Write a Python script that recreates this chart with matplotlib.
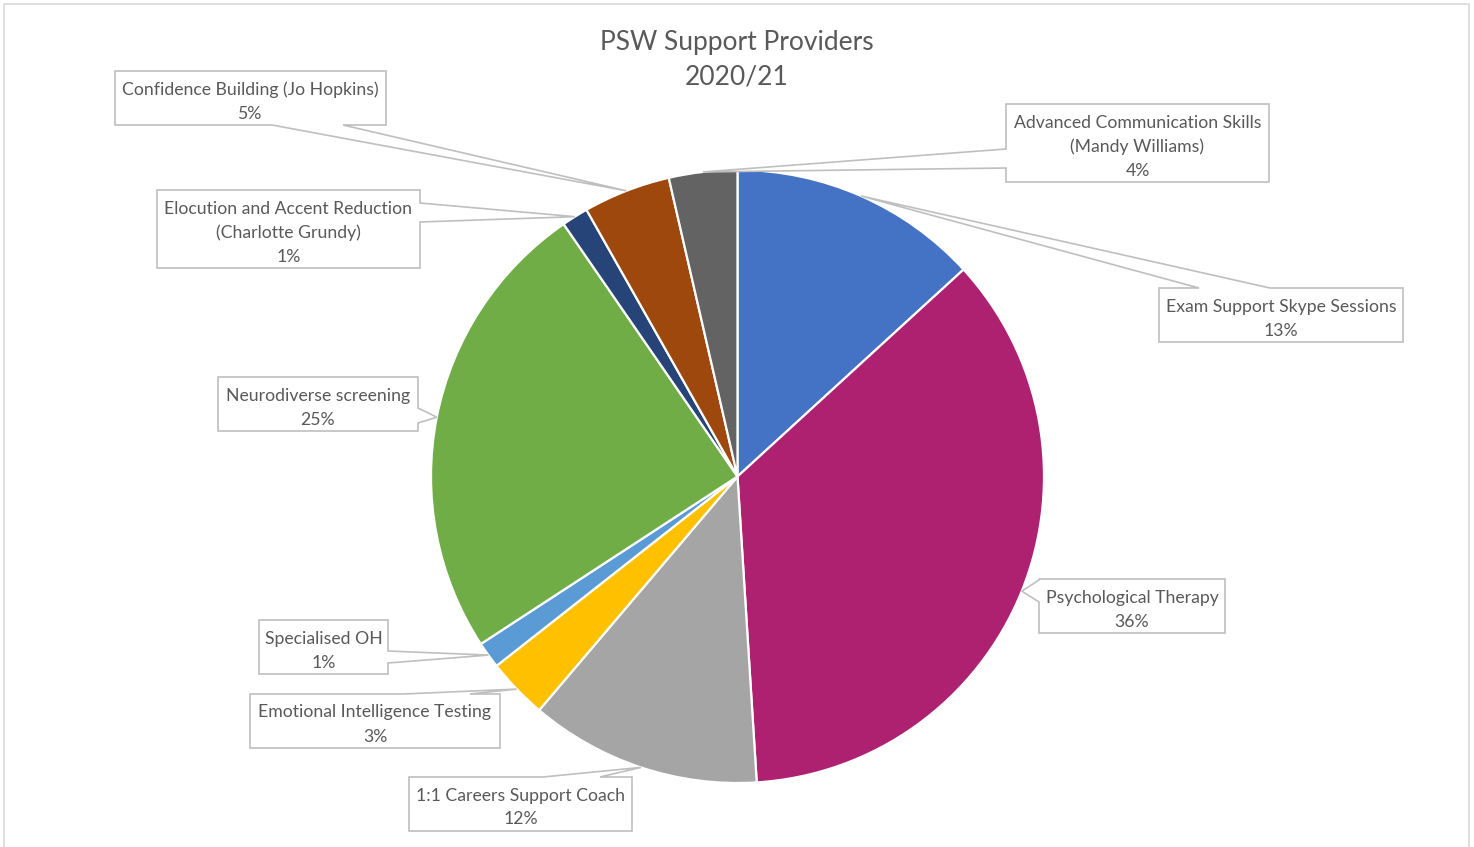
import numpy as np
import matplotlib.pyplot as plt
from matplotlib.patches import Polygon, Rectangle

W, H = 1474, 847

providers = [
    "Exam Support Skype Sessions",
    "Psychological Therapy",
    "1:1 Careers Support Coach",
    "Emotional Intelligence Testing",
    "Specialised OH",
    "Neurodiverse screening",
    "Elocution and Accent Reduction\n(Charlotte Grundy)",
    "Confidence Building (Jo Hopkins)",
    "Advanced Communication Skills\n(Mandy Williams)",
]
shares = [13.2, 35.8, 12.2, 3.2, 1.4, 24.6, 1.4, 4.6, 3.6]
colors = ["#4472C4", "#AD2170", "#A5A5A5", "#FFC000", "#5B9BD5",
          "#70AD47", "#264478", "#9E480E", "#636363"]

# callout boxes (pixels from top-left): left, top, right, pointer side, pointer base
callouts = [
    (1159, 288, 1403, "top", (1199, 1270)),
    (1039, 579, 1225, "left", (580, 602)),
    (409, 777, 632, "top", (543, 600)),
    (250, 694, 500, "top", (403, 470)),
    (259, 620, 388, "right", (651, 663)),
    (218, 377, 418, "right", (408, 423)),
    (157, 190, 420, "right", (203, 222)),
    (115, 71, 386, "bottom", (272, 343)),
    (1006, 104, 1269, "left", (149, 168)),
]

TXT = "#595959"
EDGE = "#BFBFBF"
plt.rcParams["font.family"] = ["Lato", "DejaVu Sans"]

fig = plt.figure(figsize=(W / 100, H / 100), dpi=100)
ax = fig.add_axes([0, 0, 1, 1])

cx, cy, r = 737.5, H - 476.5, 306.5
wedges, _ = ax.pie(shares, colors=colors, startangle=90, counterclock=False,
                   center=(cx, cy), radius=r,
                   wedgeprops=dict(edgecolor="white", linewidth=1.6))

ax.set_xlim(0, W)
ax.set_ylim(0, H)
ax.set_aspect("equal")
ax.axis("off")

# chart frame
ax.add_patch(Rectangle((4.5, -5), 1464.5, H - 3.5 + 5, fill=False,
                       edgecolor="#D9D9D9", linewidth=1.2))

ax.text(737, H - 42, "PSW Support Providers", ha="center", va="center",
        fontsize=19, color=TXT)
ax.text(737, H - 77, "2020/21", ha="center", va="center",
        fontsize=19, color=TXT)

total = sum(shares)
for w, name, v, (l, t, rt, side, (a, b)) in zip(wedges, providers, shares, callouts):
    lines = name.split("\n") + [f"{v / total * 100:.0f}%"]
    bt = t + 24 * len(lines) + 6
    mid = np.deg2rad((w.theta1 + w.theta2) / 2)
    tx, ty = cx + r * np.cos(mid), cy + r * np.sin(mid)
    ty = H - ty  # back to pixel rows
    tip = (tx, ty)
    if side == "top":
        pts = [(l, t), (a, t), tip, (b, t), (rt, t), (rt, bt), (l, bt)]
    elif side == "right":
        pts = [(l, t), (rt, t), (rt, a), tip, (rt, b), (rt, bt), (l, bt)]
    elif side == "bottom":
        pts = [(l, t), (rt, t), (rt, bt), (b, bt), tip, (a, bt), (l, bt)]
    else:
        pts = [(l, t), (rt, t), (rt, bt), (l, bt), (l, b), tip, (l, a)]
    pts = [(x, H - y) for x, y in pts]
    ax.add_patch(Polygon(pts, closed=True, facecolor="white", edgecolor=EDGE,
                         linewidth=1.2, zorder=3))
    for i, s in enumerate(lines):
        ax.text((l + rt) / 2, H - (t + 18.5 + 24 * i), s, ha="center", va="center",
                fontsize=12.7, color=TXT, zorder=4)

fig.savefig("out.png", dpi=100)
